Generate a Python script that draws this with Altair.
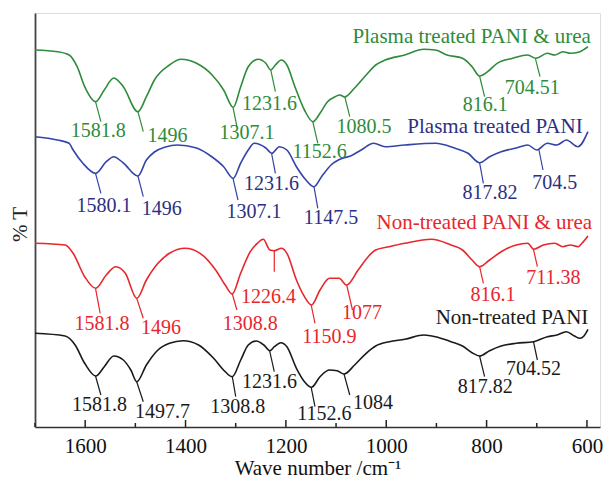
import altair as alt
import pandas as pd

# ---------------- data ----------------
series = ["Plasma treated PANI & urea", "Plasma treated PANI",
          "Non-treated PANI & urea", "Non-treated PANI"]
line_colors = ["#2e8b3a", "#3444a8", "#e8262b", "#1a1a1a"]
text_colors = ["#2e8b3a", "#2c3082", "#e8262b", "#1a1a1a"]

green_wn = [1700, 1655, 1632, 1616, 1601, 1579, 1562, 1543, 1524, 1495, 1478, 1462, 1432, 1409,
            1378, 1347, 1324, 1305, 1290, 1275, 1255, 1240, 1230, 1221, 1209, 1198, 1182, 1163,
            1146, 1132, 1117, 1102, 1092, 1083, 1063, 1040, 1021, 1002, 963, 925, 902, 879, 848,
            829, 814, 798, 779, 748, 718, 702, 679, 664, 648, 633, 614, 598]
green_t = [377, 375.3, 372, 360.3, 340.3, 325.3, 337, 349, 340.3, 315.3, 330.3, 347, 362, 367.7,
           363.7, 352, 337, 319.7, 340.3, 360.3, 367.7, 363.7, 357, 362, 367, 362, 340.3, 317,
           305.3, 313.7, 325.3, 330.3, 332, 330, 339, 352, 362, 367, 372, 377.7, 377, 372, 368.7,
           360.3, 351, 355.3, 363.7, 368.7, 372, 368.7, 373.7, 372, 375.3, 373.7, 375.3, 380.3]

blue_wn = [1700, 1655, 1632, 1624, 1605, 1579, 1558, 1543, 1524, 1495, 1478, 1462, 1440, 1417,
           1378, 1347, 1324, 1305, 1290, 1275, 1263, 1240, 1228, 1213, 1198, 1179, 1160, 1144,
           1129, 1110, 1087, 1071, 1050, 1025, 1002, 963, 902, 864, 837, 814, 794, 771, 741,
           718, 700, 679, 660, 641, 618, 598]
blue_t = [290.3, 287, 283.7, 277, 264, 253.7, 265.3, 270.3, 264, 251, 267, 275, 280, 282,
          279, 270, 260.3, 248.7, 264, 277, 283.7, 279, 273.7, 280.3, 277, 260.3, 247, 240.3,
          250.3, 262, 268.7, 271, 277, 283.7, 280.3, 282, 283.7, 279, 273.7, 264.3, 270.3, 275.3,
          279, 282, 277, 283.7, 282, 287, 280.3, 295.3]

red_wn = [1700, 1640, 1624, 1601, 1579, 1558, 1539, 1520, 1497, 1478, 1455, 1432, 1401, 1371,
          1340, 1321, 1307, 1290, 1271, 1257, 1245, 1232, 1223, 1209, 1198, 1179, 1163, 1149,
          1132, 1113, 1094, 1079, 1056, 1036, 1021, 994, 963, 910, 871, 848, 829, 814, 794,
          771, 741, 718, 706, 687, 664, 648, 633, 618, 610, 598]
red_t = [183.7, 182, 173.7, 150.3, 138.7, 152, 160.3, 153.7, 128.7, 147, 163.7, 173.7, 178.7,
         173.7, 157, 142, 133, 154, 175.3, 183.7, 187.7, 177, 176.3, 178.7, 173.7, 147, 130.3,
         122, 137, 148.7, 148.7, 142, 157, 170.3, 177, 180.3, 183.7, 187.7, 182, 177, 167,
         160.3, 167, 175.3, 182, 183.7, 177.7, 182, 183.7, 180.3, 182, 180.3, 183.7, 191]

black_wn = [1700, 1640, 1620, 1601, 1579, 1562, 1543, 1524, 1509, 1497, 1478, 1455, 1432, 1405,
            1374, 1344, 1321, 1307, 1290, 1275, 1259, 1244, 1232, 1223, 1210, 1198, 1179, 1163,
            1149, 1132, 1113, 1098, 1084, 1063, 1040, 1021, 994, 963, 925, 902, 871, 848, 829,
            814, 794, 771, 741, 706, 679, 660, 641, 625, 614, 606, 598]
black_t = [93.7, 91, 82, 63.7, 51, 60.3, 71, 67, 57, 45.3, 62, 77, 83.7, 86.3,
           82, 68.7, 55.3, 50.3, 67, 82, 86, 82, 76.3, 80.3, 84.3, 80.3, 58.7, 45.3,
           39.7, 50.3, 57, 56.3, 53, 62, 73.7, 81, 85.3, 87.7, 92, 90.3, 85.3, 81, 74.3,
           71, 76.3, 81, 83.7, 85.3, 90.3, 92, 95.3, 91, 88.7, 91, 97.7]

# peak annotations: series index, label, peak point, leader end, label anchor
ann_series = [0] * 8 + [1] * 7 + [2] * 8 + [3] * 8
ann_text = ["1581.8", "1496", "1307.1", "1231.6", "1152.6", "1080.5", "816.1", "704.51",
            "1580.1", "1496", "1307.1", "1231.6", "1147.5", "817.82", "704.5",
            "1581.8", "1496", "1308.8", "1226.4", "1150.9", "1077", "816.1", "711.38",
            "1581.8", "1497.7", "1308.8", "1231.6", "1152.6", "1084", "817.82", "704.52"]
ann_peak_wn = [1579.4, 1494.9, 1305.4, 1230.1, 1146.4, 1082.6, 814, 702.8,
               1579.4, 1494.9, 1305.4, 1228.5, 1144, 814, 695.6,
               1579.4, 1497.3, 1306.8, 1223.1, 1149.6, 1078.8, 814, 706.6,
               1579.4, 1497.3, 1306.8, 1232.5, 1149.6, 1084.2, 814, 706.6]
ann_peak_t = [325.3, 315.3, 319.7, 357, 305.3, 330.3, 351, 368.7,
              253.7, 251, 248.7, 273.7, 240.3, 264.3, 277,
              138.7, 128.7, 133, 176.3, 122, 142, 160.3, 177.7,
              51, 45.3, 50.3, 76.3, 39.7, 53, 71, 85.3]
ann_end_wn = [1568.7, 1484.2, 1297.6, 1220.9, 1136.4, 1072.7, 804, 693.6,
              1568.7, 1484.2, 1295.5, 1220.9, 1136.4, 806.4, 687.6,
              1570.1, 1484.2, 1297.6, 1223.1, 1142, 1067.3, 806.4, 698.8,
              1568.7, 1484.2, 1300, 1223.1, 1142, 1072.7, 804, 698.8]
ann_end_t = [305.3, 295.3, 300.3, 335.3, 283.7, 310.3, 330.3, 350.3,
             233.7, 230.3, 227, 253.7, 218.7, 243.7, 257,
             113.7, 108.7, 117, 155.3, 103.7, 117, 143.7, 160.3,
             32, 25.3, 30.3, 55.3, 20.3, 32, 50.3, 67]
ann_lab_wn = [1574, 1435.8, 1277.5, 1232.5, 1132.6, 1044.4, 802.5, 708.8,
              1562.5, 1447.3, 1263.6, 1228.5, 1110.1, 793.3, 664.3,
              1566.5, 1448.9, 1270.8, 1234.7, 1113.3, 1048.3, 787.3, 666.7,
              1571.7, 1445.7, 1296, 1232.5, 1123.5, 1026.6, 802.5, 706.6]
ann_lab_t = [296, 291, 294, 323, 275, 300, 322, 339.5,
             221, 218, 215.3, 243, 209, 233.7, 244.5,
             103, 99, 103, 130.3, 90, 114, 132, 149,
             22, 15, 20.3, 45, 13, 24.5, 40, 58]

# series name labels
name_wn = [829.6, 783.3, 804.5, 749.4]
name_t = [390.5, 300.5, 204, 109.5]

x_ticks_major = [1600, 1400, 1200, 1000, 800, 600]
x_ticks_minor = [1700, 1500, 1300, 1100, 900, 700]

# ---------------- tables ----------------
curve_df = pd.concat([
    pd.DataFrame({"wn": w, "t": t, "series": s, "order": range(len(w))})
    for w, t, s in [(green_wn, green_t, series[0]), (blue_wn, blue_t, series[1]),
                    (red_wn, red_t, series[2]), (black_wn, black_t, series[3])]
], ignore_index=True)

ann_df = pd.DataFrame({
    "series": [series[i] for i in ann_series],
    "label": ann_text,
    "pw": ann_peak_wn, "pt": ann_peak_t,
    "ew": ann_end_wn, "et": ann_end_t,
    "lw": ann_lab_wn, "lt": ann_lab_t,
})
name_df = pd.DataFrame({"series": series, "wn": name_wn, "t": name_t})
tick_df = pd.DataFrame({
    "wn": x_ticks_major + x_ticks_minor,
    "len": [7] * len(x_ticks_major) + [4] * len(x_ticks_minor),
    "base": [0] * (len(x_ticks_major) + len(x_ticks_minor)),
})

FONT = "Liberation Serif"
xscale = alt.Scale(domain=[1700, 574], nice=False, zero=False)
yscale = alt.Scale(domain=[0, 414], nice=False, zero=False)
line_color = alt.Color("series:N", scale=alt.Scale(domain=series, range=line_colors), legend=None)
text_color = alt.Color("series:N", scale=alt.Scale(domain=series, range=text_colors), legend=None)

x_axis = alt.Axis(values=x_ticks_major, format="d", ticks=False, grid=False, labelFontSize=21,
                  labelFont=FONT, labelColor="#111", labelPadding=8,
                  domainColor="#333", domainWidth=1.6,
                  title="Wave number /cm⁻¹", titleFont=FONT, titleFontSize=21,
                  titleFontWeight="normal", titleColor="#111", titleY=47,
                  titleBaseline="alphabetic")
y_axis = alt.Axis(ticks=False, labels=False, grid=False, domainColor="#444", domainWidth=1.8,
                  title="% T", titleFont=FONT, titleFontSize=21, titleFontWeight="normal",
                  titleColor="#222", titleAngle=270, titleX=-15, titleY=211,
                  titleAlign="center", titleBaseline="middle")

lines = alt.Chart(curve_df).mark_line(interpolate="monotone", strokeWidth=1.6).encode(
    x=alt.X("wn:Q", scale=xscale, axis=x_axis),
    y=alt.Y("t:Q", scale=yscale, axis=y_axis),
    color=line_color,
    order="order:Q",
)

leaders = alt.Chart(ann_df).mark_rule(strokeWidth=1.2).encode(
    x=alt.X("pw:Q", scale=xscale), x2="ew:Q",
    y=alt.Y("pt:Q", scale=yscale), y2="et:Q",
    color=line_color,
)

ann_text_layer = alt.Chart(ann_df).mark_text(font=FONT, fontSize=20, align="center",
                                             baseline="middle").encode(
    x=alt.X("lw:Q", scale=xscale), y=alt.Y("lt:Q", scale=yscale),
    text="label:N", color=text_color,
)

names = alt.Chart(name_df).mark_text(font=FONT, fontSize=21, align="center",
                                     baseline="middle").encode(
    x=alt.X("wn:Q", scale=xscale), y=alt.Y("t:Q", scale=yscale),
    text="series:N", color=text_color,
)

ticks = alt.Chart(tick_df).mark_rule(strokeWidth=1.5, color="#222").encode(
    x=alt.X("wn:Q", scale=xscale), y=alt.Y("base:Q", scale=yscale), y2="len:Q",
)

chart = alt.layer(lines, leaders, ann_text_layer, names, ticks).resolve_scale(
    color="independent"
).properties(
    width=565, height=414,
    padding={"left": 35, "top": 13, "right": 4, "bottom": 51},
    autosize="none",
    background="white",
).configure_view(stroke=None).configure(font=FONT)

chart.save("out.html", embed_options={"renderer": "svg", "actions": False})
